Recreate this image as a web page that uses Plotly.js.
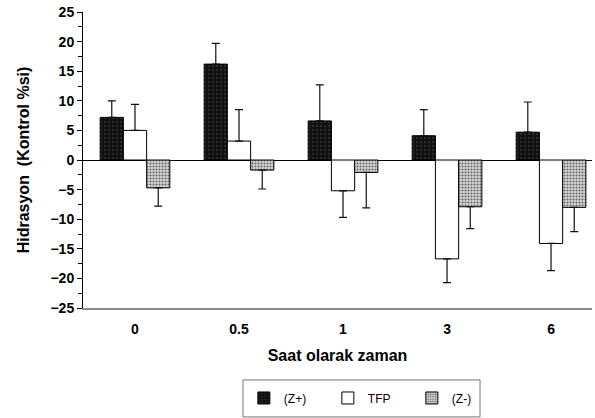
<!DOCTYPE html>
<html>
<head>
<meta charset="utf-8">
<script src="https://cdn.plot.ly/plotly-3.0.1.min.js"></script>
<style>html,body{margin:0;padding:0;background:#fff}#chart{width:595px;height:418px}</style>
</head>
<body>
<div id="chart"></div>
<script>
const categories = ['0', '0.5', '1', '3', '6'];
const zPlus = [7.2, 16.2, 6.6, 4.1, 4.7];
const zPlusErr = [2.8, 3.5, 6.1, 4.4, 5.1];
const tfp = [5.0, 3.2, -5.2, -16.7, -14.1];
const tfpErr = [4.4, 5.3, 4.5, 4.0, 4.6];
const zMinus = [-4.7, -1.7, -2.1, -7.9, -8.0];
const zMinusErr = [3.1, 3.2, 6.0, 3.7, 4.1];
const seriesNames = ['(Z+)', 'TFP', '(Z-)'];

function oneSided(vals, errs) {
  return {
    type: 'data', symmetric: false,
    array: vals.map((v, i) => v >= 0 ? errs[i] : 0),
    arrayminus: vals.map((v, i) => v < 0 ? errs[i] : 0),
    color: '#111', thickness: 1.2, width: 4
  };
}

const font = {family: 'Liberation Sans, Arial, sans-serif', size: 14, color: '#000', weight: 'bold'};

const traces = [
  {type: 'bar', name: seriesNames[0], x: categories, y: zPlus, error_y: oneSided(zPlus, zPlusErr),
   marker: {color: '#151515', line: {color: '#000', width: 1},
            pattern: {shape: '.', fgcolor: '#333', bgcolor: '#111', size: 4, solidity: 0.2}}},
  {type: 'bar', name: seriesNames[1], x: categories, y: tfp, error_y: oneSided(tfp, tfpErr),
   marker: {color: '#fff', line: {color: '#000', width: 1}}},
  {type: 'bar', name: seriesNames[2], x: categories, y: zMinus, error_y: oneSided(zMinus, zMinusErr),
   marker: {color: '#bbb', line: {color: '#000', width: 1},
            pattern: {shape: '.', fgcolor: '#666', bgcolor: '#d8d8d8', size: 3, solidity: 0.4}}}
];

const layout = {
  width: 595, height: 418,
  margin: {l: 83, r: 3, t: 12, b: 110, autoexpand: false},
  paper_bgcolor: '#fff', plot_bgcolor: '#fff',
  barmode: 'group', bargap: 0.33, bargroupgap: 0,
  showlegend: true,
  legend: {orientation: 'h', x: 0.316, xanchor: 'left', y: -0.304, yanchor: 'middle',
           borderwidth: 0, bgcolor: 'rgba(0,0,0,0)',
           font: {family: 'Liberation Sans, Arial, sans-serif', size: 12, color: '#000'},
           entrywidth: 39, entrywidthmode: 'pixels', itemwidth: 30},
  shapes: [{type: 'rect', xref: 'paper', yref: 'paper', x0: 0.3143, x1: 0.78, y0: -0.368, y1: -0.243,
            line: {color: '#777', width: 1}, fillcolor: 'rgba(0,0,0,0)', layer: 'below'}],
  xaxis: {type: 'category', range: [-0.5, 4.394], autorange: false, showline: true, linecolor: '#888', linewidth: 1.5,
          ticks: '', showgrid: false, zeroline: false, tickfont: font, ticklabelstandoff: 8,
          title: {text: 'Saat olarak zaman', font: {...font, size: 16}, standoff: 13}},
  yaxis: {range: [-25, 25], autorange: false, dtick: 5, tick0: 0, showline: true, linecolor: '#000', linewidth: 1,
          ticks: 'outside', ticklen: 5, tickcolor: '#000', showgrid: false,
          minor: {dtick: 2.5, ticks: 'outside', ticklen: 4, tickcolor: '#000', showgrid: false},
          zeroline: true, zerolinecolor: '#000', zerolinewidth: 1,
          tickfont: font,
          title: {text: 'Hidrasyon  (Kontrol %si)', font: {...font, size: 16}, standoff: 16}}
};

Plotly.newPlot('chart', traces, layout, {displayModeBar: false, staticPlot: true});
</script>
</body>
</html>
